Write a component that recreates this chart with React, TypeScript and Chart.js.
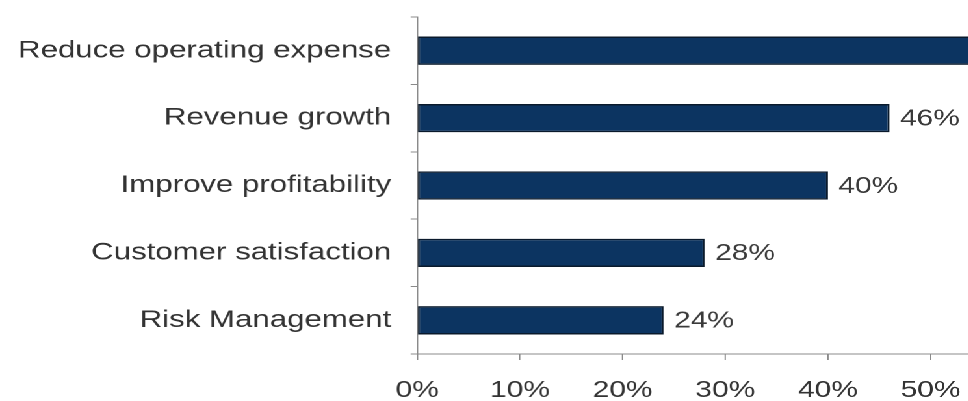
import React, { useEffect, useRef } from "react";
import { Chart, registerables } from "chart.js";

Chart.register(...registerables);

const categories = [
  "Reduce operating expense",
  "Revenue growth",
  "Improve profitability",
  "Customer satisfaction",
  "Risk Management",
];
const values = [57, 46, 40, 28, 24];
const xMin = 0;
const xMax = 53.7;
const xStep = 10;

const STRETCH = 1.3;
const FONT = '"Liberation Sans", Arial, Helvetica, sans-serif';

const valueLabels = {
  id: "valueLabels",
  afterDatasetsDraw(chart: any) {
    const ctx = chart.ctx;
    const meta = chart.getDatasetMeta(0);
    ctx.save();
    ctx.font = `23px ${FONT}`;
    ctx.fillStyle = "#3a3a3a";
    ctx.textBaseline = "middle";
    ctx.textAlign = "left";
    meta.data.forEach((bar: any, i: number) => {
      ctx.fillText(values[i] + "%", bar.x + 8, bar.y + 1);
    });
    ctx.restore();
  },
};

export default function App() {
  const ref = useRef<HTMLCanvasElement | null>(null);
  useEffect(() => {
    if (!ref.current) return;
    const chart = new Chart(ref.current, {
      type: "bar",
      data: {
        labels: categories,
        datasets: [
          {
            data: values,
            backgroundColor: "#0c3461",
            borderColor: "#0a1a2c",
            borderWidth: 1.5,
            borderSkipped: false,
            categoryPercentage: 1,
            barPercentage: 0.42,
          },
        ],
      },
      options: {
        indexAxis: "y",
        animation: false,
        responsive: true,
        maintainAspectRatio: false,
        devicePixelRatio: 2,
        layout: { padding: { top: 17, right: 0, left: 0, bottom: 0 } },
        plugins: { legend: { display: false }, tooltip: { enabled: false } },
        scales: {
          y: {
            type: "category",
            grid: {
              display: true,
              drawOnChartArea: false,
              drawTicks: true,
              tickLength: 5,
              color: "#8a8a8a",
              offset: true,
            },
            border: { display: true, color: "#8a8a8a", width: 1 },
            ticks: {
              font: { size: 24, family: FONT },
              color: "#333333",
              padding: 15,
            },
            afterFit(scale: any) {
              scale.width = 417 / STRETCH;
              scale.paddingTop = 0;
              scale.paddingBottom = 0;
            },
          },
          x: {
            type: "linear",
            min: xMin,
            max: xMax,
            grid: {
              display: true,
              drawOnChartArea: false,
              drawTicks: true,
              tickLength: 6,
              color: "#8a8a8a",
            },
            border: { display: true, color: "#8a8a8a", width: 1 },
            ticks: {
              stepSize: xStep,
              includeBounds: false,
              font: { size: 23, family: FONT },
              color: "#333333",
              padding: 17,
              maxRotation: 0,
              callback: (v: any) => v + "%",
            },
            afterFit(scale: any) {
              scale.height = 47;
              scale.paddingLeft = 0;
              scale.paddingRight = 0;
            },
          },
        },
      },
      plugins: [valueLabels],
    });
    return () => chart.destroy();
  }, []);

  return (
    <div
      style={{
        position: "fixed",
        left: 0,
        top: 0,
        width: `${968 / STRETCH}px`,
        height: "401px",
        transform: `scaleX(${STRETCH})`,
        transformOrigin: "0 0",
        background: "#ffffff",
      }}
    >
      <canvas ref={ref} />
    </div>
  );
}
